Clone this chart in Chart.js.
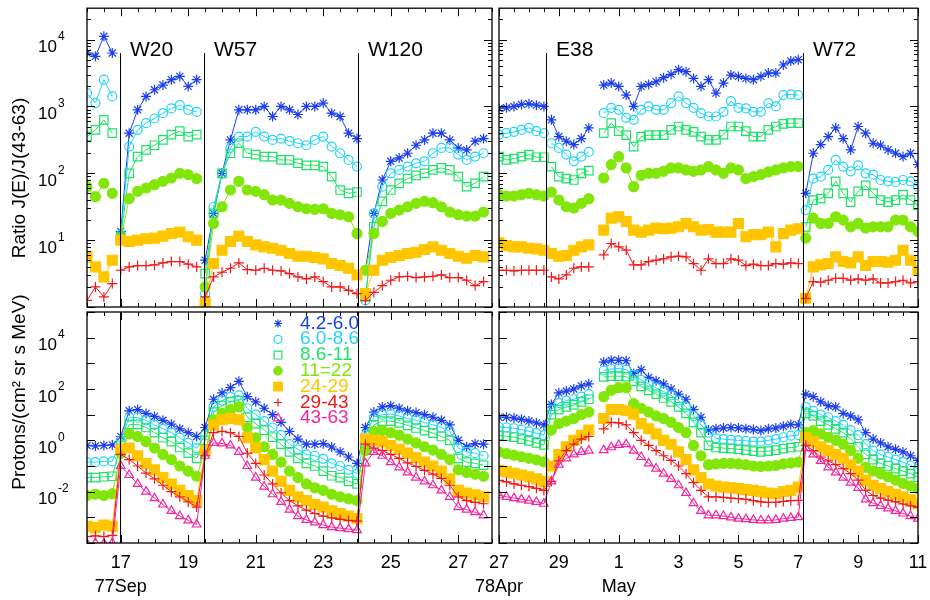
<!DOCTYPE html>
<html>
<head>
<meta charset="utf-8">
<script src="https://cdn.jsdelivr.net/npm/chart.js@4.4.1/dist/chart.umd.min.js"></script>
<style>
	html, body { margin: 0; padding: 0; background: #fff; }
	#wrap { position: relative; width: 930px; height: 600px; }
	#wrap canvas { position: absolute; left: 0; top: 0; }
</style>
</head>
<body>
<div id="wrap">
	<canvas id="cTL" width="930" height="600"></canvas>
	<canvas id="cTR" width="930" height="600"></canvas>
	<canvas id="cBL" width="930" height="600"></canvas>
	<canvas id="cBR" width="930" height="600"></canvas>
</div>
<script>
// energy bands (MeV)
var bandLabels = ['4.2-6.0', '6.0-8.6', '8.6-11', '11=22', '24-29', '29-43', '43-63'];

// sampling grid: Sep 1977 (day of month) and Apr/May 1978 (days counted from Apr 1, so May 1 = 31)
var sepTimes = [];
for (var i = 0; i < 48; i++) sepTimes.push(16 + i * 0.25);
var mayTimes = [];
for (i = 0; i < 57; i++) mayTimes.push(27 + i * 0.25);

// event onsets
var sepEventDays = [16.98, 19.46, 24.02];
var sepEventNames = ['W20', 'W57', 'W120'];
var mayEventDays = [28.58, 37.15];
var mayEventNames = ['E38', 'W72'];

// x tick labels
var sepTickDays = [17, 19, 21, 23, 25, 27];
var sepTickText = ['17', '19', '21', '23', '25', '27'];
var mayTickDays = [27, 29, 31, 33, 35, 37, 39, 41];
var mayTickText = ['27', '29', '1', '3', '5', '7', '9', '11'];

// ---- ratio J(E)/J(43-63), log10, Sep 1977 ----
var sepRatio42 = [
	3.8, 3.75, 4.05, 3.8, 1.13, 2.6, 2.95, 3.15, 3.25, 3.32, 3.4, 3.45,
	3.3, 3.4, 0.7, 1.4, 2.0, 2.5, 2.95, 2.95, 2.95, 3.0, 2.85, 3.0,
	2.95, 2.88, 3.0, 3.0, 3.05, 2.9, 2.85, 2.6, 2.52, 0.55, 1.4, 1.9,
	2.18, 2.23, 2.3, 2.42, 2.5, 2.6, 2.6, 2.5, 2.38, 2.35, 2.48, 2.52];
var sepRatio60 = [
	3.2, 3.05, 3.4, 3.15, 1.08, 2.4, 2.65, 2.75, 2.82, 2.9, 2.97, 3.02,
	2.95, 2.92, 0.2, 1.5, 2.0, 2.38, 2.55, 2.55, 2.62, 2.55, 2.5, 2.52,
	2.48, 2.45, 2.42, 2.5, 2.55, 2.4, 2.3, 2.2, 2.1, 0.1, 1.4, 1.8,
	2.0, 2.05, 2.1, 2.15, 2.18, 2.3, 2.38, 2.38, 2.28, 2.2, 2.25, 2.3];
var sepRatio86 = [
	2.55, 2.65, 2.8, 2.6, 1.05, 2.0, 2.25, 2.35, 2.42, 2.5, 2.58, 2.63,
	2.55, 2.58, 0.5, 1.4, 2.0, 2.3, 2.45, 2.3, 2.28, 2.25, 2.25, 2.2,
	2.2, 2.15, 2.12, 2.12, 2.1, 1.95, 1.75, 1.7, 1.72, 0.15, 1.2, 1.58,
	1.75, 1.85, 1.92, 1.97, 2.0, 2.05, 2.08, 2.05, 1.95, 1.8, 1.85, 1.95];
var sepRatio11 = [
	1.8, 1.65, 1.85, 1.7, 1.02, 1.62, 1.73, 1.78, 1.83, 1.88, 1.93, 2.0,
	1.98, 1.92, 0.3, 1.25, 1.5, 1.75, 1.88, 1.75, 1.73, 1.68, 1.6, 1.6,
	1.55, 1.5, 1.47, 1.46, 1.47, 1.4, 1.38, 1.35, 1.1, 0.55, 1.1, 1.28,
	1.4, 1.45, 1.5, 1.55, 1.58, 1.56, 1.5, 1.42, 1.38, 1.36, 1.36, 1.42];
var sepRatio24 = [
	0.75, 0.6, 0.45, 0.7, 1.0, 0.98, 1.0, 1.02, 1.03, 1.06, 1.1, 1.12,
	1.05, 1.0, 0.05, 0.65, 0.85, 0.98, 1.06, 0.98, 0.93, 0.9, 0.88, 0.85,
	0.8, 0.76, 0.76, 0.74, 0.72, 0.65, 0.62, 0.58, 0.48, 0.2, 0.55, 0.7,
	0.74, 0.77, 0.8, 0.82, 0.86, 0.9, 0.85, 0.8, 0.76, 0.73, 0.77, 0.75];
var sepRatio29 = [
	0.1, 0.3, 0.15, 0.35, 0.55, 0.6, 0.62, 0.62, 0.63, 0.66, 0.68, 0.68,
	0.64, 0.6, 0.15, 0.45, 0.52, 0.58, 0.66, 0.56, 0.55, 0.58, 0.55, 0.54,
	0.5, 0.45, 0.42, 0.45, 0.38, 0.3, 0.3, 0.25, 0.2, 0.1, 0.22, 0.32,
	0.4, 0.45, 0.46, 0.44, 0.45, 0.46, 0.48, 0.44, 0.44, 0.4, 0.32, 0.38];

// ---- proton flux, log10, Sep 1977 ----
var sepFlux42 = [
	-0.2, -0.22, -0.2, -0.18, 0.15, 1.15, 1.2, 1.05, 0.93, 0.78, 0.63, 0.45,
	0.3, 0.15, 0.5, 1.6, 1.85, 2.05, 2.3, 1.7, 1.5, 1.25, 1.0, 0.7,
	0.35, 0.05, -0.15, -0.15, -0.13, -0.26, -0.45, -0.65, -0.9, 0.5, 1.1, 1.3,
	1.35, 1.25, 1.15, 1.08, 1.0, 0.9, 0.78, 0.6, 0.0, -0.25, -0.13, -0.15];
var sepFlux60 = [
	-0.85, -0.85, -0.82, -0.82, 0.0, 0.9, 0.88, 0.78, 0.6, 0.45, 0.3, 0.1,
	-0.1, -0.3, 0.2, 1.3, 1.55, 1.68, 1.75, 1.25, 1.0, 0.75, 0.5, 0.2,
	-0.15, -0.35, -0.55, -0.6, -0.72, -0.9, -1.0, -1.15, -1.3, 0.2, 0.9, 1.0,
	1.02, 0.95, 0.85, 0.78, 0.7, 0.6, 0.5, 0.35, -0.3, -0.45, -0.5, -0.6];
var sepFlux86 = [
	-1.45, -1.45, -1.42, -1.4, -0.2, 0.62, 0.62, 0.5, 0.3, 0.1, -0.05, -0.28,
	-0.5, -0.7, 0.0, 1.1, 1.35, 1.5, 1.55, 0.9, 0.65, 0.4, 0.12, -0.15,
	-0.45, -0.7, -0.9, -1.0, -1.2, -1.38, -1.45, -1.6, -1.7, -0.2, 0.6, 0.75,
	0.75, 0.68, 0.58, 0.48, 0.38, 0.28, 0.15, 0.0, -0.7, -0.85, -0.9, -0.97];
var sepFlux11 = [
	-2.15, -2.1, -2.15, -2.08, -0.5, 0.25, 0.15, -0.05, -0.3, -0.55, -0.75, -1.0,
	-1.2, -1.4, -0.4, 0.8, 1.05, 1.2, 1.3, 0.5, 0.1, -0.25, -0.55, -0.85,
	-1.2, -1.45, -1.7, -1.85, -1.95, -2.1, -2.2, -2.28, -2.35, -0.4, 0.35, 0.38,
	0.3, 0.2, 0.05, -0.1, -0.25, -0.38, -0.55, -0.75, -1.15, -1.25, -1.32, -1.4];
var sepFlux24 = [
	-3.35, -3.4, -3.3, -3.35, -0.35, -0.3, -0.6, -0.9, -1.15, -1.45, -1.7, -1.95,
	-2.15, -2.35, -0.4, 0.6, 0.8, 0.85, 0.8, 0.1, -0.3, -0.75, -1.2, -1.6,
	-1.95, -2.2, -2.35, -2.5, -2.6, -2.75, -2.85, -2.95, -3.05, 0.05, 0.0, -0.05,
	-0.2, -0.35, -0.5, -0.68, -0.85, -1.0, -1.2, -1.5, -1.95, -2.05, -2.12, -2.2];
var sepFlux29 = [
	-3.75, -3.72, -3.75, -3.7, -0.55, -0.75, -1.0, -1.28, -1.5, -1.75, -2.0, -2.2,
	-2.4, -2.6, -0.6, 0.3, 0.35, 0.3, 0.15, -0.5, -0.9, -1.35, -1.7, -2.05,
	-2.35, -2.55, -2.72, -2.85, -2.95, -3.02, -3.08, -3.12, -3.15, -0.15, -0.3, -0.4,
	-0.55, -0.7, -0.88, -1.02, -1.17, -1.32, -1.48, -1.75, -2.2, -2.35, -2.42, -2.47];
var sepFlux43 = [
	-4.02, -4.0, -4.02, -4.0, -1.0, -1.35, -1.7, -2.0, -2.25, -2.5, -2.75, -2.95,
	-3.12, -3.28, -0.6, -0.1, -0.12, -0.2, -0.45, -1.0, -1.45, -1.8, -2.1, -2.4,
	-2.7, -2.95, -3.1, -3.2, -3.3, -3.38, -3.42, -3.46, -3.5, -0.9, -0.45, -0.6,
	-0.85, -1.05, -1.25, -1.45, -1.6, -1.75, -1.95, -2.2, -2.6, -2.7, -2.8, -2.92];

// ---- ratio J(E)/J(43-63), log10, Apr/May 1978 ----
var mayRatio42 = [
	2.97, 2.98, 3.0, 3.03, 3.04, 3.02, 3.0, 2.8, 2.55, 2.48, 2.43, 2.52,
	2.68, null, 3.32, 3.35, 3.3, 3.17, 3.0, 3.3, 3.33, 3.37, 3.43, 3.48,
	3.55, 3.52, 3.42, 3.3, 3.4, 3.2, 3.35, 3.47, 3.45, 3.42, 3.4, 3.45,
	3.5, 3.5, 3.62, 3.68, 3.7, 1.7, 2.3, 2.43, 2.55, 2.68, 2.52, 2.35,
	2.7, 2.6, 2.45, 2.42, 2.35, 2.3, 2.25, 2.3, 2.13];
var mayRatio60 = [
	2.58, 2.6, 2.62, 2.65, 2.68, 2.63, 2.6, 2.45, 2.38, 2.28, 2.18, 2.25,
	2.32, null, 2.9, 2.98, 2.95, 2.83, 2.8, 2.95, 3.0, 2.95, 2.95, 3.05,
	3.15, 3.05, 2.98, 2.9, 2.85, 2.85, 2.92, 3.08, 2.98, 2.97, 2.92, 2.92,
	3.05, 3.0, 3.17, 3.18, 3.17, 1.45, 1.92, 1.95, 2.05, 2.2, 2.1, 2.03,
	2.12, 2.0, 1.98, 1.9, 1.88, 1.87, 1.9, 1.88, 1.8];
var mayRatio86 = [
	2.25, 2.2, 2.22, 2.25, 2.28, 2.24, 2.24, 2.1, 1.95, 1.92, 1.9, 2.0,
	2.04, null, 2.6, 2.75, 2.63, 2.57, 2.4, 2.55, 2.57, 2.57, 2.57, 2.65,
	2.7, 2.65, 2.62, 2.55, 2.5, 2.5, 2.58, 2.7, 2.7, 2.63, 2.55, 2.55,
	2.65, 2.7, 2.74, 2.75, 2.75, 1.2, 1.6, 1.62, 1.7, 1.88, 1.7, 1.57,
	1.73, 1.82, 1.7, 1.6, 1.57, 1.6, 1.68, 1.6, 1.52];
var mayRatio11 = [
	1.68, 1.66, 1.66, 1.68, 1.7, 1.68, 1.66, 1.72, 1.6, 1.5, 1.48, 1.55,
	1.62, null, 1.93, 2.13, 2.25, 2.08, 1.8, 1.97, 2.0, 2.0, 2.03, 2.08,
	2.08, 2.05, 2.03, 2.05, 2.1, 2.05, 2.0, 2.08, 2.05, 1.92, 1.95, 1.98,
	2.02, 2.05, 2.08, 2.1, 2.1, 1.03, 1.33, 1.25, 1.25, 1.35, 1.3, 1.2,
	1.25, 1.18, 1.2, 1.2, 1.2, 1.3, 1.3, 1.2, 1.13];
var mayRatio24 = [
	0.96, 0.92, 0.9, 0.9, 0.88, 0.87, 0.85, 0.8, 0.76, 0.77, 0.85, 0.9,
	0.93, null, 1.15, 1.33, 1.35, 1.28, 1.15, 1.12, 1.15, 1.18, 1.17, 1.18,
	1.2, 1.25, 1.2, 1.15, 1.16, 1.12, 1.12, 1.12, 1.25, 1.05, 1.08, 1.08,
	1.12, 0.9, 1.1, 1.15, 1.17, 0.13, 0.6, 0.63, 0.65, 0.75, 0.68, 0.66,
	0.75, 0.62, 0.68, 0.68, 0.67, 0.7, 0.85, 0.7, 0.55];
var mayRatio29 = [
	0.55, 0.55, 0.54, 0.55, 0.55, 0.55, 0.55, 0.45, 0.42, 0.48, 0.58, 0.6,
	0.6, null, 0.78, 0.95, 0.9, 0.85, 0.63, 0.63, 0.68, 0.7, 0.72, 0.75,
	0.76, 0.75, 0.65, 0.55, 0.72, 0.65, 0.65, 0.72, 0.7, 0.62, 0.64, 0.62,
	0.62, 0.65, 0.64, 0.66, 0.65, 0.13, 0.38, 0.37, 0.4, 0.43, 0.43, 0.4,
	0.42, 0.4, 0.42, 0.36, 0.36, 0.38, 0.4, 0.36, 0.38];

// ---- proton flux, log10, Apr/May 1978 ----
var mayFlux42 = [
	0.9, 0.9, 0.87, 0.82, 0.75, 0.68, 0.6, 1.4, 1.85, 1.92, 2.0, 2.12,
	2.2, null, 3.05, 3.12, 3.12, 3.1, 2.6, 2.75, 2.45, 2.32, 2.2, 2.0,
	1.8, 1.6, 1.2, 0.9, 0.4, 0.45, 0.48, 0.5, 0.48, 0.45, 0.42, 0.38,
	0.45, 0.48, 0.55, 0.62, 0.6, 1.8, 1.7, 1.5, 1.35, 1.3, 1.05, 0.95,
	0.8, 0.3, 0.05, -0.1, -0.25, -0.35, -0.45, -0.6, -0.78];
var mayFlux60 = [
	0.52, 0.5, 0.47, 0.42, 0.35, 0.28, 0.2, 1.2, 1.45, 1.55, 1.6, 1.7,
	1.8, null, 2.72, 2.78, 2.8, 2.75, 2.55, 2.35, 2.2, 2.05, 1.9, 1.75,
	1.55, 1.3, 0.95, 0.6, 0.3, 0.08, 0.05, 0.02, 0.0, -0.02, -0.05, -0.05,
	0.0, 0.05, 0.12, 0.18, 0.2, 1.3, 1.15, 1.0, 0.9, 0.75, 0.6, 0.4,
	0.2, -0.15, -0.4, -0.55, -0.65, -0.75, -0.85, -0.98, -1.1];
var mayFlux86 = [
	0.19, 0.16, 0.12, 0.05, -0.02, -0.1, -0.18, 1.0, 1.2, 1.3, 1.38, 1.5,
	1.6, null, 2.47, 2.5, 2.5, 2.48, 2.3, 2.1, 1.95, 1.8, 1.65, 1.5,
	1.3, 1.05, 0.7, 0.3, -0.2, -0.28, -0.3, -0.32, -0.35, -0.38, -0.42, -0.45,
	-0.42, -0.38, -0.32, -0.28, -0.25, 1.05, 0.95, 0.75, 0.6, 0.45, 0.3, 0.05,
	-0.25, -0.55, -0.75, -0.9, -1.0, -1.1, -1.2, -1.3, -1.43];
var mayFlux11 = [
	-0.45, -0.52, -0.58, -0.64, -0.7, -0.76, -0.84, 0.4, 0.65, 0.75, 0.85, 1.0,
	1.1, null, 1.7, 1.95, 2.05, 2.05, 1.43, 1.25, 1.1, 0.95, 0.85, 0.7,
	0.5, 0.3, -0.2, -0.6, -0.95, -0.92, -0.9, -0.9, -0.92, -0.95, -1.0, -1.02,
	-1.0, -0.98, -0.92, -0.88, -0.85, 0.3, 0.38, 0.25, 0.12, 0.0, -0.15, -0.4,
	-0.7, -1.05, -1.2, -1.3, -1.42, -1.55, -1.68, -1.78, -1.88];
var mayFlux24 = [
	-1.17, -1.22, -1.28, -1.35, -1.42, -1.5, -1.6, -1.0, -0.55, -0.25, 0.0, 0.2,
	0.4, null, 0.85, 1.2, 1.2, 1.15, 1.02, 0.65, 0.45, 0.25, 0.0, -0.15,
	-0.45, -0.75, -1.15, -1.45, -1.7, -1.78, -1.82, -1.85, -1.88, -1.92, -1.95, -2.0,
	-2.05, -2.08, -2.0, -1.95, -1.82, 0.1, -0.05, -0.25, -0.4, -0.55, -0.7, -0.95,
	-1.2, -1.55, -1.75, -1.88, -2.0, -2.1, -2.2, -2.32, -2.47];
var mayFlux29 = [
	-1.56, -1.62, -1.7, -1.75, -1.8, -1.87, -1.95, -1.6, -0.8, -0.4, -0.15, 0.05,
	0.15, null, 0.45, 0.7, 0.68, 0.6, 0.3, 0.0, -0.2, -0.4, -0.6, -0.78,
	-1.0, -1.3, -1.65, -1.95, -2.2, -2.2, -2.22, -2.25, -2.27, -2.3, -2.35, -2.4,
	-2.42, -2.42, -2.38, -2.35, -2.34, -0.2, -0.4, -0.65, -0.8, -0.95, -1.1, -1.3,
	-1.55, -1.95, -2.15, -2.25, -2.33, -2.4, -2.48, -2.55, -2.6];
var mayFlux43 = [
	-2.14, -2.2, -2.25, -2.3, -2.35, -2.4, -2.47, -1.6, -0.95, -0.7, -0.55, -0.45,
	-0.4, null, -0.38, -0.27, -0.18, -0.15, -0.4, -0.65, -0.9, -1.1, -1.3, -1.5,
	-1.75, -2.05, -2.45, -2.75, -2.92, -2.92, -2.95, -3.0, -3.05, -3.07, -3.1, -3.12,
	-3.12, -3.1, -3.05, -3.02, -2.99, -0.3, -0.55, -0.8, -1.05, -1.25, -1.45, -1.65,
	-1.85, -2.3, -2.45, -2.55, -2.65, -2.75, -2.85, -2.95, -3.05];

// ---- styles ----
var FONT = '"Liberation Sans", Arial, Helvetica, sans-serif';
var bandColors = ['#1a3ef0', '#22d4f5', '#1ee36a', '#82e60a', '#ffc600', '#f21818', '#f2259e'];
var bandStyles = ['star', 'circle', 'rect', 'circle', 'rect', 'cross', 'triangle'];
var bandFilled = [false, false, false, true, true, false, false];
var bandRadius = [5, 4.5, 6, 5, 7, 5, 5];
var legendRadius = [4, 4, 5.5, 4.2, 6, 4, 5];

// symbols joined by thin lines; in the ratio panels the join is broken across an onset
function bandDataset(i, times, logs, breakDays) {
	var col = bandColors[i];
	return {
		label: bandLabels[i],
		data: times.map(function (t, k) {
			return {x: t, y: logs[k] === null ? null : Math.pow(10, logs[k])};
		}),
		borderColor: col,
		backgroundColor: col,
		borderWidth: 1,
		pointStyle: bandStyles[i],
		pointRadius: bandRadius[i],
		pointBorderColor: col,
		pointBackgroundColor: bandFilled[i] ? col : 'rgba(0,0,0,0)',
		pointBorderWidth: 1.2,
		showLine: true,
		spanGaps: false,
		tension: 0,
		order: 10 - i,
		segment: {
			borderColor: function (c) {
				var x0 = c.p0.parsed.x, x1 = c.p1.parsed.x;
				for (var k = 0; k < breakDays.length; k++) {
					if (x0 < breakDays[k] && x1 > breakDays[k]) return 'rgba(0,0,0,0)';
				}
				return undefined;
			}
		}
	};
}

// frame, inward ticks, event lines and all text around one panel
function decorPlugin(cfg) {
	return {
		id: 'decor',
		afterDatasetsDraw: function (chart) {
			var ctx = chart.ctx, a = chart.chartArea, xs = chart.scales.x, ys = chart.scales.y;
			var d, e, m, px, py, len;
			ctx.save();
			ctx.strokeStyle = '#000';
			ctx.fillStyle = '#000';
			ctx.lineWidth = 1;

			// event lines + names
			cfg.eventDays.forEach(function (day, k) {
				var x = Math.round(xs.getPixelForValue(day)) + 0.5;
				ctx.beginPath();
				ctx.moveTo(x, cfg.lineTop || a.top);
				ctx.lineTo(x, a.bottom);
				ctx.stroke();
				if (cfg.eventNames) {
					ctx.font = '21px ' + FONT;
					ctx.textAlign = 'left';
					ctx.textBaseline = 'alphabetic';
					ctx.fillText(cfg.eventNames[k], x + 9.5, 56);
				}
			});

			// x ticks every half day, longer on odd days
			for (d = Math.ceil(xs.min * 2) / 2; d <= xs.max + 1e-6; d += 0.5) {
				px = Math.round(xs.getPixelForValue(d)) + 0.5;
				len = (Math.abs(d % 2 - 1) < 1e-6) ? 8 : 4;
				ctx.beginPath();
				ctx.moveTo(px, a.bottom); ctx.lineTo(px, a.bottom - len);
				ctx.moveTo(px, a.top); ctx.lineTo(px, a.top + len);
				ctx.stroke();
			}

			// y ticks
			var e0 = Math.floor(Math.log10(ys.min) + 1e-6), e1 = Math.ceil(Math.log10(ys.max) - 1e-6);
			for (e = e0; e <= e1; e++) {
				for (m = 1; m <= (cfg.minorY ? 9 : 1); m++) {
					var v = m * Math.pow(10, e);
					if (v < ys.min * 0.999 || v > ys.max * 1.001) continue;
					py = Math.round(ys.getPixelForValue(v)) + 0.5;
					len = m === 1 ? 8 : 4;
					ctx.beginPath();
					ctx.moveTo(a.left, py); ctx.lineTo(a.left + len, py);
					ctx.moveTo(a.right, py); ctx.lineTo(a.right - len, py);
					ctx.stroke();
				}
			}

			// frame
			ctx.lineWidth = 1.3;
			ctx.strokeRect(a.left, a.top, a.right - a.left, a.bottom - a.top);

			// y tick labels 10^n
			if (cfg.yLabelExps) {
				ctx.textAlign = 'left';
				ctx.textBaseline = 'alphabetic';
				cfg.yLabelExps.forEach(function (n) {
					var y = ys.getPixelForValue(Math.pow(10, n));
					ctx.font = '17px ' + FONT;
					ctx.fillText('10', 38, y + 12.5);
					var w = ctx.measureText('10').width;
					ctx.font = '12px ' + FONT;
					ctx.fillText(String(n), 38 + w + 1, y + 0.5);
				});
			}

			// x tick labels
			if (cfg.xTickDays) {
				ctx.font = '18px ' + FONT;
				ctx.textAlign = 'center';
				ctx.textBaseline = 'alphabetic';
				cfg.xTickDays.forEach(function (day, k) {
					ctx.fillText(cfg.xTickText[k], xs.getPixelForValue(day), 568);
				});
				cfg.xSubDays.forEach(function (day, k) {
					ctx.fillText(cfg.xSubText[k], xs.getPixelForValue(day), 592);
				});
			}

			// rotated y title
			if (cfg.yTitle) {
				ctx.save();
				ctx.translate(25, cfg.yTitleY);
				ctx.rotate(-Math.PI / 2);
				ctx.font = '19px ' + FONT;
				ctx.textAlign = 'center';
				ctx.textBaseline = 'alphabetic';
				ctx.fillText(cfg.yTitle, 0, 0);
				ctx.restore();
			}

			// legend inside the panel
			if (cfg.legend) {
				chart.data.datasets.forEach(function (ds, k) {
					var base = cfg.legend.y + k * cfg.legend.step;
					ctx.fillStyle = ds.pointBackgroundColor;
					ctx.strokeStyle = ds.pointBorderColor;
					ctx.lineWidth = 1.2;
					Chart.helpers.drawPoint(ctx, {
						pointStyle: ds.pointStyle, rotation: 0,
						radius: legendRadius[k], borderWidth: 1.2
					}, cfg.legend.x, base - 5);
					ctx.fillStyle = ds.borderColor;
					ctx.font = '19px ' + FONT;
					ctx.textAlign = 'left';
					ctx.textBaseline = 'alphabetic';
					ctx.fillText(ds.label, cfg.legend.textX, base);
				});
			}
			ctx.restore();
		}
	};
}

function makePanel(id, box, datasets, xMin, xMax, yMin, yMax, cfg) {
	return new Chart(document.getElementById(id), {
		type: 'line',
		data: {datasets: datasets},
		options: {
			responsive: false,
			animation: false,
			devicePixelRatio: 1,
			events: [],
			layout: {padding: {left: box[0], top: box[1], right: 930 - box[2], bottom: 600 - box[3]}},
			plugins: {legend: {display: false}, tooltip: {enabled: false}},
			scales: {
				x: {type: 'linear', min: xMin, max: xMax, display: false},
				y: {type: 'logarithmic', min: yMin, max: yMax, display: false}
			}
		},
		plugins: [decorPlugin(cfg)]
	});
}

var sepRatios = [sepRatio42, sepRatio60, sepRatio86, sepRatio11, sepRatio24, sepRatio29];
var mayRatios = [mayRatio42, mayRatio60, mayRatio86, mayRatio11, mayRatio24, mayRatio29];
var sepFluxes = [sepFlux42, sepFlux60, sepFlux86, sepFlux11, sepFlux24, sepFlux29, sepFlux43];
var mayFluxes = [mayFlux42, mayFlux60, mayFlux86, mayFlux11, mayFlux24, mayFlux29, mayFlux43];

var ratioMax = Math.pow(10, 4.47);

makePanel('cTL', [87, 8, 492, 307],
	sepRatios.map(function (arr, k) { return bandDataset(k, sepTimes, arr, sepEventDays); }),
	16, 28, 1, ratioMax, {
		eventDays: sepEventDays, eventNames: sepEventNames, lineTop: 53, minorY: true,
		yLabelExps: [4, 3, 2, 1], yTitle: 'Ratio J(E)/J(43-63)', yTitleY: 178
	});

makePanel('cTR', [499, 8, 918, 307],
	mayRatios.map(function (arr, k) { return bandDataset(k, mayTimes, arr, mayEventDays); }),
	27, 41, 1, ratioMax, {
		eventDays: mayEventDays, eventNames: mayEventNames, lineTop: 53, minorY: true
	});

makePanel('cBL', [87, 312, 492, 543],
	sepFluxes.map(function (arr, k) { return bandDataset(k, sepTimes, arr, []); }),
	16, 28, 1e-4, 1e5, {
		eventDays: sepEventDays, minorY: false,
		yLabelExps: [4, 2, 0, -2], yTitle: 'Protons/(cm\u00b2 sr s MeV)', yTitleY: 392,
		xTickDays: sepTickDays, xTickText: sepTickText,
		xSubDays: [17], xSubText: ['77Sep'],
		legend: {x: 278, textX: 300, y: 328.5, step: 15.8}
	});

makePanel('cBR', [499, 312, 918, 543],
	mayFluxes.map(function (arr, k) { return bandDataset(k, mayTimes, arr, []); }),
	27, 41, 1e-4, 1e5, {
		eventDays: mayEventDays, minorY: false,
		xTickDays: mayTickDays, xTickText: mayTickText,
		xSubDays: [27, 31], xSubText: ['78Apr', 'May']
	});
</script>
</body>
</html>
